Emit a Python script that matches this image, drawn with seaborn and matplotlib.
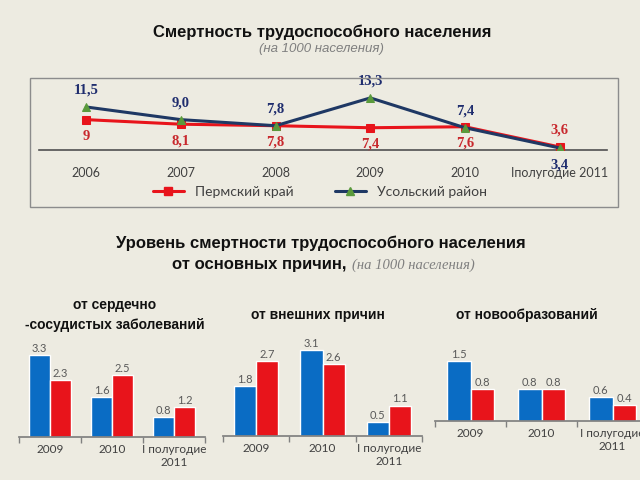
import matplotlib
matplotlib.use('Agg')
import matplotlib.pyplot as plt
import seaborn as sns
import pandas as pd
from matplotlib.patches import Rectangle
from matplotlib.lines import Line2D

# Top chart data
years = ['2006', '2007', '2008', '2009', '2010', 'Iполугодие 2011']
perm_krai = [9, 8.1, 7.8, 7.4, 7.6, 3.6]
usolsky = [11.5, 9.0, 7.8, 13.3, 7.4, 3.4]

# Bottom charts data
periods = ['2009', '2010', 'I полугодие\n2011']
series_names = ['Усольский район', 'Пермский край']
cardio_blue = [3.3, 1.6, 0.8]
cardio_red = [2.3, 2.5, 1.2]
external_blue = [1.8, 3.1, 0.5]
external_red = [2.7, 2.6, 1.1]
neoplasm_blue = [1.5, 0.8, 0.6]
neoplasm_red = [0.8, 0.8, 0.4]

BG = '#edebe1'
RED = '#e8141b'
BLUE = '#0a6cc4'
GRAY = '#404040'

sns.set_theme(style='white')
plt.rcParams['font.family'] = ['Liberation Sans', 'DejaVu Sans']

fig = plt.figure(figsize=(6.4, 4.8), dpi=100, facecolor=BG)

# ---- titles ----
fig.text(0.503, 1 - 32 / 480, 'Смертность трудоспособного населения',
         ha='center', va='center', fontsize=12, fontweight='bold', color='#111111')
fig.text(0.503, 1 - 49 / 480, '(на 1000 населения)', ha='center', va='center',
         fontsize=9.5, style='italic', color='#7f7f7f')

# ---- top line chart ----
fig.add_artist(Rectangle((30 / 640, 1 - 207 / 480), 588 / 640, 129 / 480,
                         transform=fig.transFigure, fill=False,
                         edgecolor='#8c8c8c', lw=1))
ax = fig.add_axes([39 / 640, 0.6875, 568 / 640, 0.137])
ax.set_facecolor('none')
df_top = pd.DataFrame({'x': range(len(years)), 'perm': perm_krai, 'usol': usolsky})
sns.lineplot(data=df_top, x='x', y='perm', ax=ax, color=RED, lw=2.2,
             marker='s', markersize=6, markeredgecolor=RED, zorder=3)
sns.lineplot(data=df_top, x='x', y='usol', ax=ax, color='#1f3864', lw=2.2,
             marker='^', markersize=6, markerfacecolor='#5a9a3c',
             markeredgecolor='#5a9a3c', zorder=4)
ax.set_xlim(-0.5, len(years) - 0.5)
ax.set_ylim(3.0, 16.0)
ax.set_yticks([])
ax.set_xticks(range(len(years)))
ax.set_xticklabels(years, fontsize=9, color=GRAY, family='Lato')
ax.tick_params(axis='x', length=0, pad=12)
ax.set_xlabel('')
ax.set_ylabel('')
for s in ['top', 'left', 'right']:
    ax.spines[s].set_visible(False)
ax.spines['bottom'].set_color('#505050')
ax.spines['bottom'].set_linewidth(1.2)

# red labels below the points, blue above; swapped on the last point
last = len(years) - 1
for i, (r, b) in enumerate(zip(perm_krai, usolsky)):
    swap = i == last
    ax.annotate(('%g' % r).replace('.', ','), (i, r), xytext=(0, 12 if swap else -12),
                textcoords='offset points', ha='center', va='center',
                fontsize=10.5, color='#c8282d', family='Liberation Serif',
                fontweight='bold', annotation_clip=False)
    ax.annotate(('%.1f' % b).replace('.', ','), (i, b), xytext=(0, -12 if swap else 12),
                textcoords='offset points', ha='center', va='center',
                fontsize=10.5, color='#1f2d6e', family='Liberation Serif',
                fontweight='bold', annotation_clip=False)

handles = [
    Line2D([], [], color=RED, lw=2.2, marker='s', markersize=6),
    Line2D([], [], color='#1f3864', lw=2.2, marker='^', markersize=6,
           markerfacecolor='#5a9a3c', markeredgecolor='#5a9a3c'),
]
leg = fig.legend(handles, ['Пермский край', 'Усольский район'], ncol=2,
                 loc='center', bbox_to_anchor=(0.5, 1 - 192 / 480),
                 frameon=False, handlelength=2.2, columnspacing=3,
                 prop={'family': 'Lato', 'size': 10})
for t in leg.get_texts():
    t.set_color(GRAY)

# ---- middle titles ----
fig.text(0.502, 1 - 243 / 480, 'Уровень смертности трудоспособного населения',
         ha='center', va='center', fontsize=12, fontweight='bold', color='#111111')
fig.text(347 / 640, 1 - 265 / 480, 'от основных причин,', ha='right', va='center',
         fontsize=12, fontweight='bold', color='#111111')
fig.text(352 / 640, 1 - 265 / 480, '(на 1000 населения)', ha='left', va='center',
         fontsize=10.5, style='italic', family='Liberation Serif', color='#7f7f7f')

# ---- bottom bar charts ----
panels = [
    ('от сердечно\n-сосудистых заболеваний', cardio_blue, cardio_red,
     [19 / 640, 0.0896, 186 / 640, 0.2067], 4.0, (115 / 640, 1 - 315 / 480)),
    ('от внешних причин', external_blue, external_red,
     [223 / 640, 0.0917, 199 / 640, 0.202], 3.5, (318 / 640, 1 - 315 / 480)),
    ('от новообразований', neoplasm_blue, neoplasm_red,
     [435 / 640, 0.123, 213 / 640, 0.1667], 2.0, (527 / 640, 1 - 315 / 480)),
]

for title, blue_vals, red_vals, pos, ymax, tpos in panels:
    fig.text(tpos[0], tpos[1], title, ha='center', va='center', fontsize=10,
             fontweight='bold', color='#111111', linespacing=1.5)
    bx = fig.add_axes(pos)
    bx.set_facecolor('none')
    df = pd.DataFrame({
        'period': periods * 2,
        'series': [series_names[0]] * 3 + [series_names[1]] * 3,
        'value': blue_vals + red_vals,
    })
    sns.barplot(data=df, x='period', y='value', hue='series', ax=bx,
                palette=[BLUE, RED], width=0.67, saturation=1, legend=False)
    for c in bx.containers:
        bx.bar_label(c, fmt='%.1f', padding=1, fontsize=8, color='#595959',
                     family='Lato')
    bx.set_xlim(-0.5, 2.5)
    bx.set_ylim(0, ymax)
    bx.set_yticks([])
    bx.set_xlabel('')
    bx.set_ylabel('')
    bx.set_xticks([-0.5, 0.5, 1.5, 2.5], minor=True)
    bx.tick_params(axis='x', which='major', length=0, pad=5, labelsize=8.5,
                   labelcolor=GRAY)
    bx.tick_params(axis='x', which='minor', length=4, color='#808080',
                   direction='out', bottom=True)
    for lab in bx.get_xticklabels():
        lab.set_family('Lato')
    for s in ['top', 'left', 'right']:
        bx.spines[s].set_visible(False)
    bx.spines['bottom'].set_color('#808080')

fig.savefig('out.png', dpi=100, facecolor=BG)
